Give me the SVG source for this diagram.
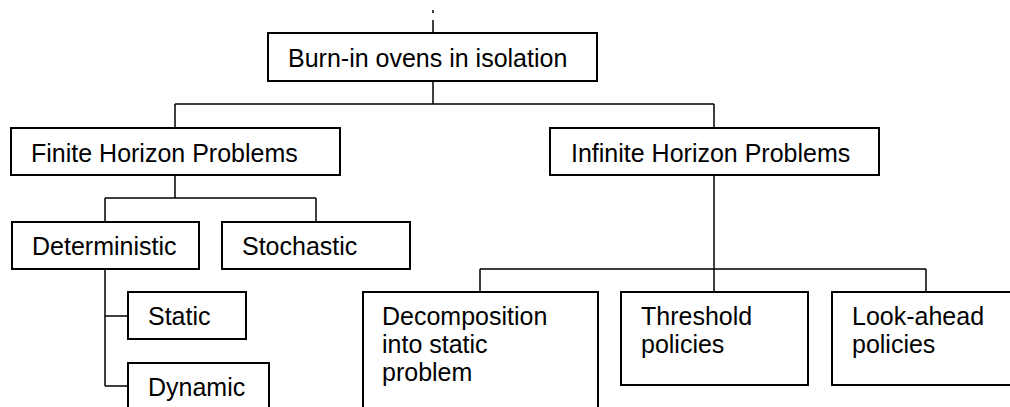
<svg xmlns="http://www.w3.org/2000/svg" width="1010" height="407" viewBox="0 0 1010 407">
  <style>
    .box { fill: #ffffff; stroke: #000000; stroke-width: 2; }
    .lbl { font-family: "Liberation Sans", Arial, sans-serif; font-size: 25px; fill: #000000; }
    .conn { fill: none; stroke: #000000; stroke-width: 1.5; }
  </style>
  <rect width="1010" height="407" fill="#ffffff"/>

  <!-- connectors -->
  <g id="connectors" class="conn">
    <path d="M433 10 V13 M433 20 V33"/>
    <path d="M433 81 V104 M175 104 H714 M175 104 V128 M714 104 V128"/>
    <path d="M175 175 V198 M105 198 H316 M105 198 V222 M316 198 V222"/>
    <path d="M105 269 V386 M105 316 H128 M105 386 H128"/>
    <path d="M714 175 V269 M480 269 H926 M480 269 V292 M714 269 V292 M926 269 V292"/>
  </g>

  <g id="root">
    <rect class="box" x="268" y="33" width="329" height="48"/>
    <text class="lbl" x="288" y="67">Burn-in ovens in isolation</text>
  </g>
  <g id="finite">
    <rect class="box" x="11" y="128" width="329" height="47"/>
    <text class="lbl" x="31" y="162">Finite Horizon Problems</text>
  </g>
  <g id="infinite">
    <rect class="box" x="550" y="128" width="329" height="47"/>
    <text class="lbl" x="571" y="162">Infinite Horizon Problems</text>
  </g>
  <g id="deterministic">
    <rect class="box" x="12" y="222" width="187" height="47"/>
    <text class="lbl" x="32" y="255">Deterministic</text>
  </g>
  <g id="stochastic">
    <rect class="box" x="222" y="222" width="188" height="47"/>
    <text class="lbl" x="242" y="255">Stochastic</text>
  </g>
  <g id="static">
    <rect class="box" x="128" y="292" width="118" height="47"/>
    <text class="lbl" x="148" y="325">Static</text>
  </g>
  <g id="dynamic">
    <rect class="box" x="128" y="363" width="141" height="60"/>
    <text class="lbl" x="148" y="396">Dynamic</text>
  </g>
  <g id="decomposition">
    <rect class="box" x="363" y="292" width="235" height="130"/>
    <text class="lbl" x="382" y="325">Decomposition</text>
    <text class="lbl" x="382" y="353">into static</text>
    <text class="lbl" x="382" y="381">problem</text>
  </g>
  <g id="threshold">
    <rect class="box" x="621" y="292" width="187" height="93"/>
    <text class="lbl" x="641" y="325">Threshold</text>
    <text class="lbl" x="641" y="353">policies</text>
  </g>
  <g id="lookahead">
    <rect class="box" x="832" y="292" width="190" height="93"/>
    <text class="lbl" x="852" y="325">Look-ahead</text>
    <text class="lbl" x="852" y="353">policies</text>
  </g>
</svg>
